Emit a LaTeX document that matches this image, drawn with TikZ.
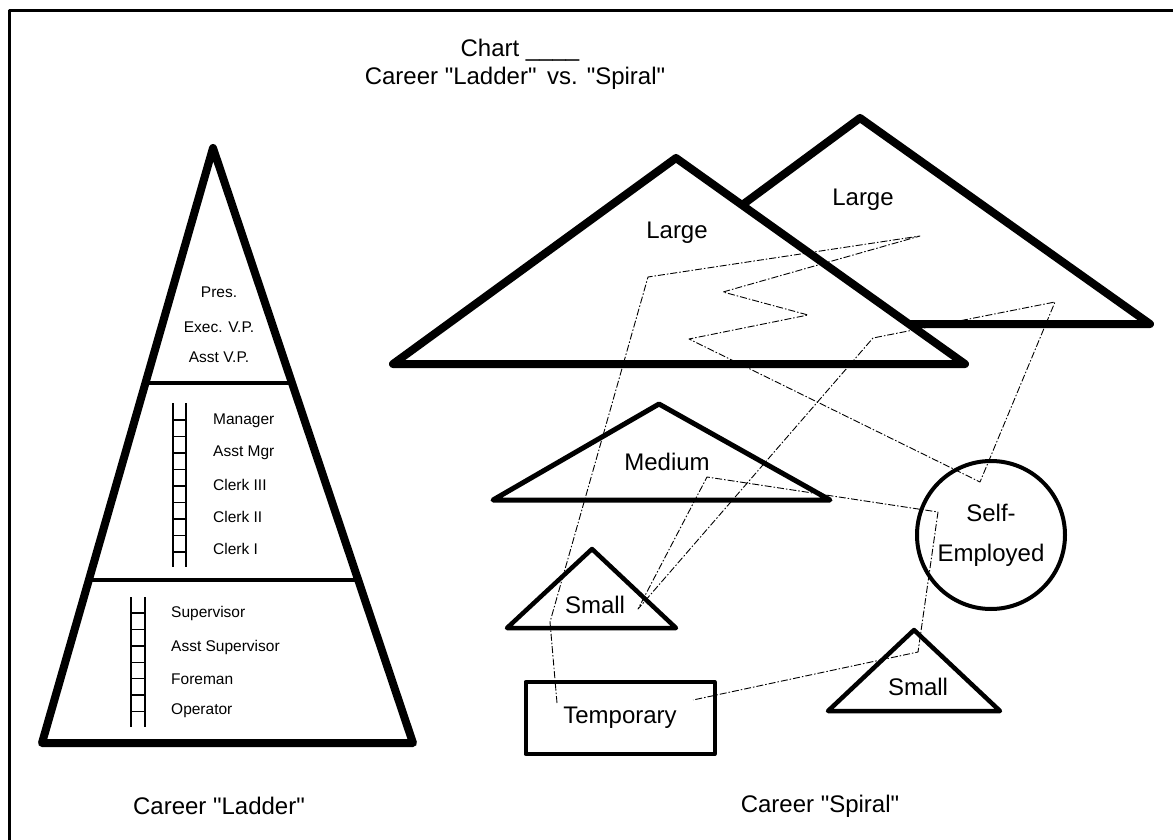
\documentclass[tikz,border=0pt]{standalone}
\usepackage{fontspec}
\setmainfont{Liberation Sans}
\usetikzlibrary{calc}
\newcommand{\qq}[1]{\textquotedbl#1\textquotedbl}

\begin{document}
\begin{tikzpicture}[x=1pt, y=-1pt, line join=round,
    big/.style ={font=\fontsize{24}{28}\selectfont, inner sep=0pt},
    tiny/.style={font=\fontsize{15.5}{18}\selectfont, inner sep=0pt},
    fat/.style ={draw, line width=8pt, fill=white},
    mid/.style ={draw, line width=5pt, fill=white},
    rail/.style={line width=2pt},
    rung/.style={line width=1.4pt},
    spi/.style ={line width=0.9pt, dash pattern=on 7pt off 2pt on 1.5pt off 2pt}]
  \useasboundingbox (0,0) rectangle (1173,840);
  % frame
  \draw[line width=3pt] (9,840) -- (9,11) -- (1173,11);
  \node[big] (chart) at (520,50) {Chart \_\_\_\_};
  \node[big] (title) at (515,78) {Career \qq{Ladder}\, vs. \qq{Spiral}};

  % ladder pyramid
  \coordinate (ptop) at (213,148);
  \coordinate (pbl) at (42,743);
  \coordinate (pbr) at (413,743);
  \draw[line width=8pt] (ptop) -- (pbl) -- (pbr) -- cycle;
  \draw[line width=3.5pt] ($(ptop)!0.395!(pbl)$) -- ($(ptop)!0.395!(pbr)$);
  \draw[line width=3.5pt] ($(ptop)!0.726!(pbl)$) -- ($(ptop)!0.726!(pbr)$);
  \node[tiny] (pres) at (219,292) {Pres.};
  \node[tiny] (evp) at (219,327) {Exec. V.P.};
  \node[tiny] (avp) at (219,357) {Asst V.P.};
  \draw[rail] (173,403) -- (173,567);
  \draw[rail] (186,403) -- (186,567);
  \foreach \i in {0,...,8}
    \draw[rung] (173,{420+16.5*\i}) -- (186,{420+16.5*\i});
  \node[tiny, anchor=west] (mgr) at (213,421) {Manager};
  \node[tiny, anchor=west] (amgr) at (213,453) {Asst Mgr};
  \node[tiny, anchor=west] (clk3) at (213,485) {Clerk III};
  \node[tiny, anchor=west] (clk2) at (213,517) {Clerk II};
  \node[tiny, anchor=west] (clk1) at (213,549) {Clerk I};
  \draw[rail] (131,597) -- (131,727);
  \draw[rail] (145,597) -- (145,727);
  \foreach \i in {0,...,6}
    \draw[rung] (131,{613+16.4*\i}) -- (145,{613+16.4*\i});
  \node[tiny, anchor=west] (sup) at (171,613) {Supervisor};
  \node[tiny, anchor=west] (asup) at (171,647) {Asst Supervisor};
  \node[tiny, anchor=west] (frm) at (171,679) {Foreman};
  \node[tiny, anchor=west] (opr) at (171,711) {Operator};
  \node[big] (cl) at (219,806) {Career \qq{Ladder}};

  % spiral shapes
  \draw[fat] (581,324) -- (860,118) -- (1150,324) -- cycle;
  \draw[fat] (393,364) -- (676,158) -- (965,364) -- cycle;
  \node[big] (lg1) at (677,233) {Large};
  \node[big] (lg2) at (863,200) {Large};
  \draw[mid] (493,500) -- (659,404) -- (830,500) -- cycle;
  \node[big] (med) at (667,462) {Medium};
  \draw[line width=4.5pt] (507,628) -- (592,549) -- (676,628) -- cycle;
  \node[big] (sm1) at (595,605) {Small};
  \draw[line width=4.5pt] (828,711) -- (914,630) -- (1000,711) -- cycle;
  \node[big] (sm2) at (918,687) {Small};
  \node[draw, circle, line width=4pt, minimum size=148pt, inner sep=0pt,
        align=center, font=\fontsize{24}{40}\selectfont] (self) at (991,535) {Self-\\Employed};
  \node[draw, line width=4pt, minimum width=189pt, minimum height=72pt,
        font=\fontsize{24}{28}\selectfont] (temp) at (620,718) {Temporary};
  \node[big] (cs) at (820,806) {Career \qq{Spiral}};

  % spiral path
  \coordinate (s0) at (557,703);
  \coordinate (s1) at (550,622);
  \coordinate (s2) at (648,277);
  \coordinate (s3) at (920,236);
  \coordinate (s4) at (723,292);
  \coordinate (s5) at (808,315);
  \coordinate (s6) at (689,339);
  \coordinate (s7) at (980,482);
  \coordinate (s8) at (1055,302);
  \coordinate (s9) at (873,338);
  \coordinate (s10) at (638,609);
  \coordinate (s11) at (707,477);
  \coordinate (s12) at (938,512);
  \coordinate (s13) at (918,652);
  \coordinate (s14) at (693,700);
  \draw[spi] (s0) -- (s1) -- (s2) -- (s3) -- (s4) -- (s5) -- (s6) -- (s7)
    -- (s8) -- (s9) -- (s10) -- (s11) -- (s12) -- (s13) -- (s14);
\end{tikzpicture}
\end{document}
